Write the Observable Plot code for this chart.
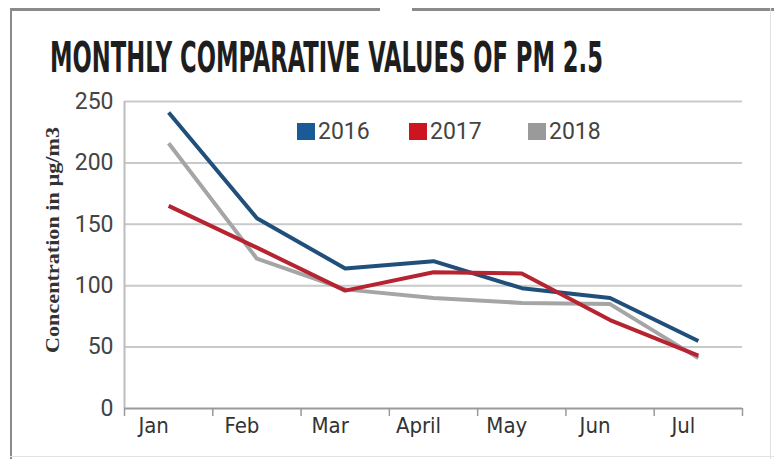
<!DOCTYPE html>
<html><head><meta charset="utf-8">
<script src="https://cdn.jsdelivr.net/npm/d3@7"></script>
<script src="https://cdn.jsdelivr.net/npm/@observablehq/plot@0.6"></script>
<style>
body{margin:0;background:#fff;}
#wrap{position:relative;width:774px;height:459px;overflow:hidden;background:#fff;}
#wrap svg.plot{position:absolute;left:0;top:0;}
.frame{position:absolute;background:#8a8a8a;}
.leg{position:absolute;top:121px;height:20px;display:flex;align-items:center;font-family:Roboto,"DejaVu Sans",sans-serif;font-size:23px;color:#444;}
.leg span.sw{display:inline-block;width:18px;height:17px;margin-right:3px;}
</style></head><body><div id="wrap"></div>
<script>
const months = ["Jan","Feb","Mar","April","May","Jun","Jul"];
const years = ["2016","2017","2018"];
const v2016 = [241,155,114,120,98,90,55];
const v2017 = [165,131,96,111,110,72,43];
const v2018 = [216,122,97,90,86,85,41];
const yTicks = [0,50,100,150,200,250];
const lineColors = ["#1f4f7a","#b52430","#a5a5a5"];
const legendColors = ["#1a5a96","#cc1520","#9a9a9a"];
const titleText = "MONTHLY COMPARATIVE VALUES OF PM 2.5";
const yLabel = "Concentration in µg/m3";

const series = [v2016, v2017, v2018];
const rows = [];
series.forEach((vals, k) => vals.forEach((v, i) => rows.push({year: years[k], i, month: months[i], value: v})));
const idx = months.map((_, i) => i);
const bounds = months.map((_, i) => i - 0.5).concat([months.length - 0.5]);

const lineOf = k => Plot.line(rows.filter(d => d.year === years[k]), {
  x: "i", y: "value", stroke: lineColors[k], strokeWidth: 4, strokeLinejoin: "round", strokeLinecap: "butt"
});

const chart = Plot.plot({
  width: 774, height: 459,
  marginLeft: 124, marginRight: 32, marginTop: 101, marginBottom: 51,
  x: {type: "linear", domain: [-0.5, months.length - 0.5]},
  y: {domain: [0, 250]},
  style: {background: "transparent", overflow: "visible"},
  marks: [
    Plot.gridY(yTicks.slice(1), {stroke: "#c9c9c9", strokeOpacity: 1, strokeWidth: 2}),
    Plot.ruleX([-0.5], {stroke: "#bdbdbd", strokeWidth: 2}),
    Plot.ruleY([0], {stroke: "#9a9a9a", strokeWidth: 2}),
    Plot.axisY(yTicks, {tickSize: 0, tickPadding: 11, fontSize: 23, fontFamily: "Roboto", fill: "#444", label: null}),
    Plot.axisX(idx, {tickSize: 0, tickPadding: 9, tickFormat: i => months[i], fontSize: 22,
      fontFamily: "'Liberation Sans Narrow','DejaVu Sans Condensed',sans-serif", fill: "#333", label: null, dx: -15}),
    Plot.axisX(bounds, {tickSize: 8, tickFormat: () => "", stroke: "#999", strokeWidth: 1.5, label: null}),
    lineOf(2), lineOf(0), lineOf(1)
  ]
});
chart.classList.add("plot");
const wrap = document.getElementById("wrap");
wrap.appendChild(chart);

const svg = d3.select(chart);
// y label
svg.append("text")
  .attr("transform", "translate(59,240) rotate(-90)")
  .attr("text-anchor", "middle")
  .attr("font-family", "'Liberation Serif',serif")
  .attr("font-weight", "bold")
  .attr("font-size", 18)
  .attr("fill", "#333")
  .attr("textLength", 226)
  .attr("lengthAdjust", "spacingAndGlyphs")
  .text(yLabel);
// title
svg.append("text")
  .attr("x", 50).attr("y", 72)
  .attr("text-anchor", "start")
  .attr("font-family", "'DejaVu Sans Condensed','DejaVu Sans',sans-serif")
  .attr("font-weight", "bold")
  .attr("font-size", 42)
  .attr("fill", "#1e1e1e")
  .attr("textLength", 553)
  .attr("lengthAdjust", "spacingAndGlyphs")
  .text(titleText);

// frame decorations
const frames = [
  {l: 10, t: 8, w: 370, h: 3},
  {l: 412, t: 8, w: 362, h: 3},
  {l: 10, t: 8, w: 2, h: 451},
  {l: 770, t: 8, w: 1, h: 451, c: "#e2e2e2"},
  {l: 10, t: 456, w: 764, h: 1, c: "#e2e2e2"}
];
frames.forEach(f => {
  const d = document.createElement("div");
  d.className = "frame";
  Object.assign(d.style, {left: f.l + "px", top: f.t + "px", width: f.w + "px", height: f.h + "px"});
  if (f.c) d.style.background = f.c;
  wrap.appendChild(d);
});

// legend
const legLeft = [297, 409, 528];
years.forEach((y, k) => {
  const d = document.createElement("div");
  d.className = "leg";
  d.style.left = legLeft[k] + "px";
  d.innerHTML = `<span class="sw" style="background:${legendColors[k]}"></span><span>${y}</span>`;
  wrap.appendChild(d);
});
</script></body></html>
